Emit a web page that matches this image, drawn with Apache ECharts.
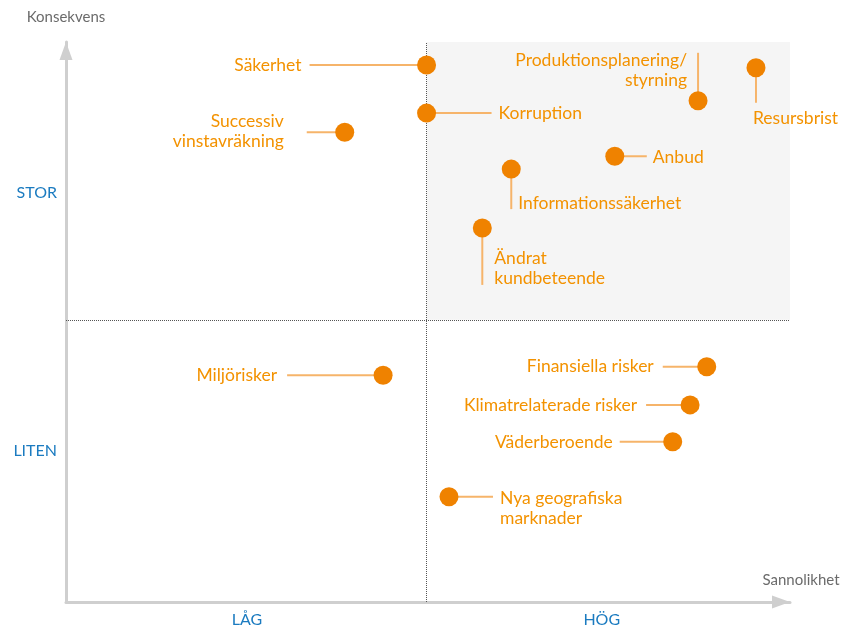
<!DOCTYPE html>
<html>
<head>
<meta charset="utf-8">
<script src="https://cdn.jsdelivr.net/npm/echarts@6/dist/echarts.min.js"></script>
<style>
  html, body { margin: 0; padding: 0; background: #fff; }
  #chart { width: 868px; height: 633px; }
</style>
</head>
<body>
<div id="chart"></div>
<script>
var myChart = echarts.init(document.getElementById('chart'));

// risks: probability (x) and consequence (y), 0-100 scale
var riskNames = [
    'Säkerhet', 'Korruption', 'Successiv\nvinstavräkning', 'Produktionsplanering/\nstyrning',
    'Resursbrist', 'Anbud', 'Informationssäkerhet', 'Ändrat\nkundbeteende',
    'Miljörisker', 'Finansiella risker', 'Klimatrelaterade risker', 'Väderberoende',
    'Nya geografiska\nmarknader'
];
var probability = [49.8, 49.8, 38.5, 87.3, 95.3, 75.8, 61.5, 57.5, 43.8, 88.5, 86.2, 83.8, 52.9];
var consequence = [95.9, 87.3, 83.9, 89.5, 95.4, 79.6, 77.3, 66.8, 40.5, 42.0, 35.2, 28.6, 18.8];

// quadrant split
var midX = 49.8;
var midY = 50.4;

var xTickValues = [25, 74];
var xTickLabels = ['LÅG', 'HÖG'];
var yTickValues = [27, 73];
var yTickLabels = ['LITEN', 'STOR'];

// connector end / text anchor offsets in px relative to the dot
var labelLayout = [
    { line: [-117, 0], text: [-125, 0], align: 'right' },
    { line: [65, 0], text: [72, 0], align: 'left' },
    { line: [-38, 0], text: [-61, -1], align: 'right' },
    { line: [0, -48], text: [-11, -30], align: 'right' },
    { line: [0, 35], text: [-3, 51], align: 'left' },
    { line: [32, 0], text: [38, 1], align: 'left' },
    { line: [0, 40], text: [7, 34], align: 'left' },
    { line: [0, 57], text: [12, 40], align: 'left' },
    { line: [-96, 0], text: [-106, 0], align: 'right' },
    { line: [-44, 0], text: [-53, 0], align: 'right' },
    { line: [-44, 0], text: [-53, 0], align: 'right' },
    { line: [-53, 0], text: [-60, 1], align: 'right' },
    { line: [44, 0], text: [51, 12], align: 'left' }
];

var seriesData = [];
for (var i = 0; i < riskNames.length; i++) {
    seriesData.push([probability[i], consequence[i], i]);
}

var option = {
    animation: false,
    grid: {
        left: 66,
        right: 78,
        top: 42,
        bottom: 31,
        outerBoundsMode: 'none'
    },
    xAxis: {
        type: 'value',
        min: 0,
        max: 100,
        name: 'Sannolikhet',
        nameLocation: 'end',
        nameGap: 11,
        nameTextStyle: {
            color: '#6b6b6b',
            fontSize: 15,
            fontFamily: 'Lato',
            align: 'center',
            verticalAlign: 'bottom',
            padding: [0, 0, 14, 0]
        },
        axisLine: {
            lineStyle: { color: '#cfcfcf', width: 3 },
            symbol: ['none', 'triangle'],
            symbolSize: [13, 18],
            symbolOffset: [0, -9]
        },
        axisTick: { show: false },
        splitLine: { show: false },
        axisLabel: {
            customValues: xTickValues,
            formatter: function (v) {
                return xTickLabels[xTickValues.indexOf(v)];
            },
            color: '#1b7bc0',
            fontSize: 16,
            fontFamily: 'Lato',
            margin: 10
        }
    },
    yAxis: {
        type: 'value',
        min: 0,
        max: 100,
        name: 'Konsekvens',
        nameLocation: 'end',
        nameGap: 25,
        nameTextStyle: {
            color: '#6b6b6b',
            fontSize: 15,
            fontFamily: 'Lato',
            align: 'center',
            verticalAlign: 'middle'
        },
        axisLine: {
            lineStyle: { color: '#cfcfcf', width: 3 },
            symbol: ['none', 'triangle'],
            symbolSize: [13, 18],
            symbolOffset: [0, -9]
        },
        axisTick: { show: false },
        splitLine: { show: false },
        axisLabel: {
            customValues: yTickValues,
            formatter: function (v) {
                return yTickLabels[yTickValues.indexOf(v)];
            },
            color: '#1b7bc0',
            fontSize: 16,
            fontFamily: 'Lato',
            margin: 9
        }
    },
    series: [
        {
            type: 'custom',
            data: seriesData,
            z: 5,
            renderItem: function (params, api) {
                var idx = api.value(2);
                var p = api.coord([api.value(0), api.value(1)]);
                var lay = labelLayout[idx];
                return {
                    type: 'group',
                    children: [
                        {
                            type: 'line',
                            shape: { x1: p[0], y1: p[1], x2: p[0] + lay.line[0], y2: p[1] + lay.line[1] },
                            style: { stroke: '#f6b46a', lineWidth: 2 }
                        },
                        {
                            type: 'circle',
                            shape: { cx: p[0], cy: p[1], r: 9.5 },
                            style: { fill: '#ef8200' }
                        },
                        {
                            type: 'text',
                            x: p[0] + lay.text[0],
                            y: p[1] + lay.text[1],
                            style: {
                                text: riskNames[idx],
                                fill: '#f39200',
                                font: '17.5px Lato',
                                lineHeight: 20,
                                align: lay.align,
                                verticalAlign: 'middle'
                            }
                        }
                    ]
                };
            }
        },
        {
            // quadrant lines and shaded high/high area
            type: 'scatter',
            data: [],
            silent: true,
            markArea: {
                silent: true,
                itemStyle: { color: '#f5f5f5' },
                data: [[{ xAxis: midX, yAxis: midY }, { xAxis: 100, yAxis: 100 }]]
            },
            markLine: {
                silent: true,
                symbol: 'none',
                label: { show: false },
                lineStyle: { color: '#555', type: 'dotted', width: 1 },
                data: [{ xAxis: midX }, { yAxis: midY }]
            }
        }
    ]
};

myChart.setOption(option);
</script>
</body>
</html>
